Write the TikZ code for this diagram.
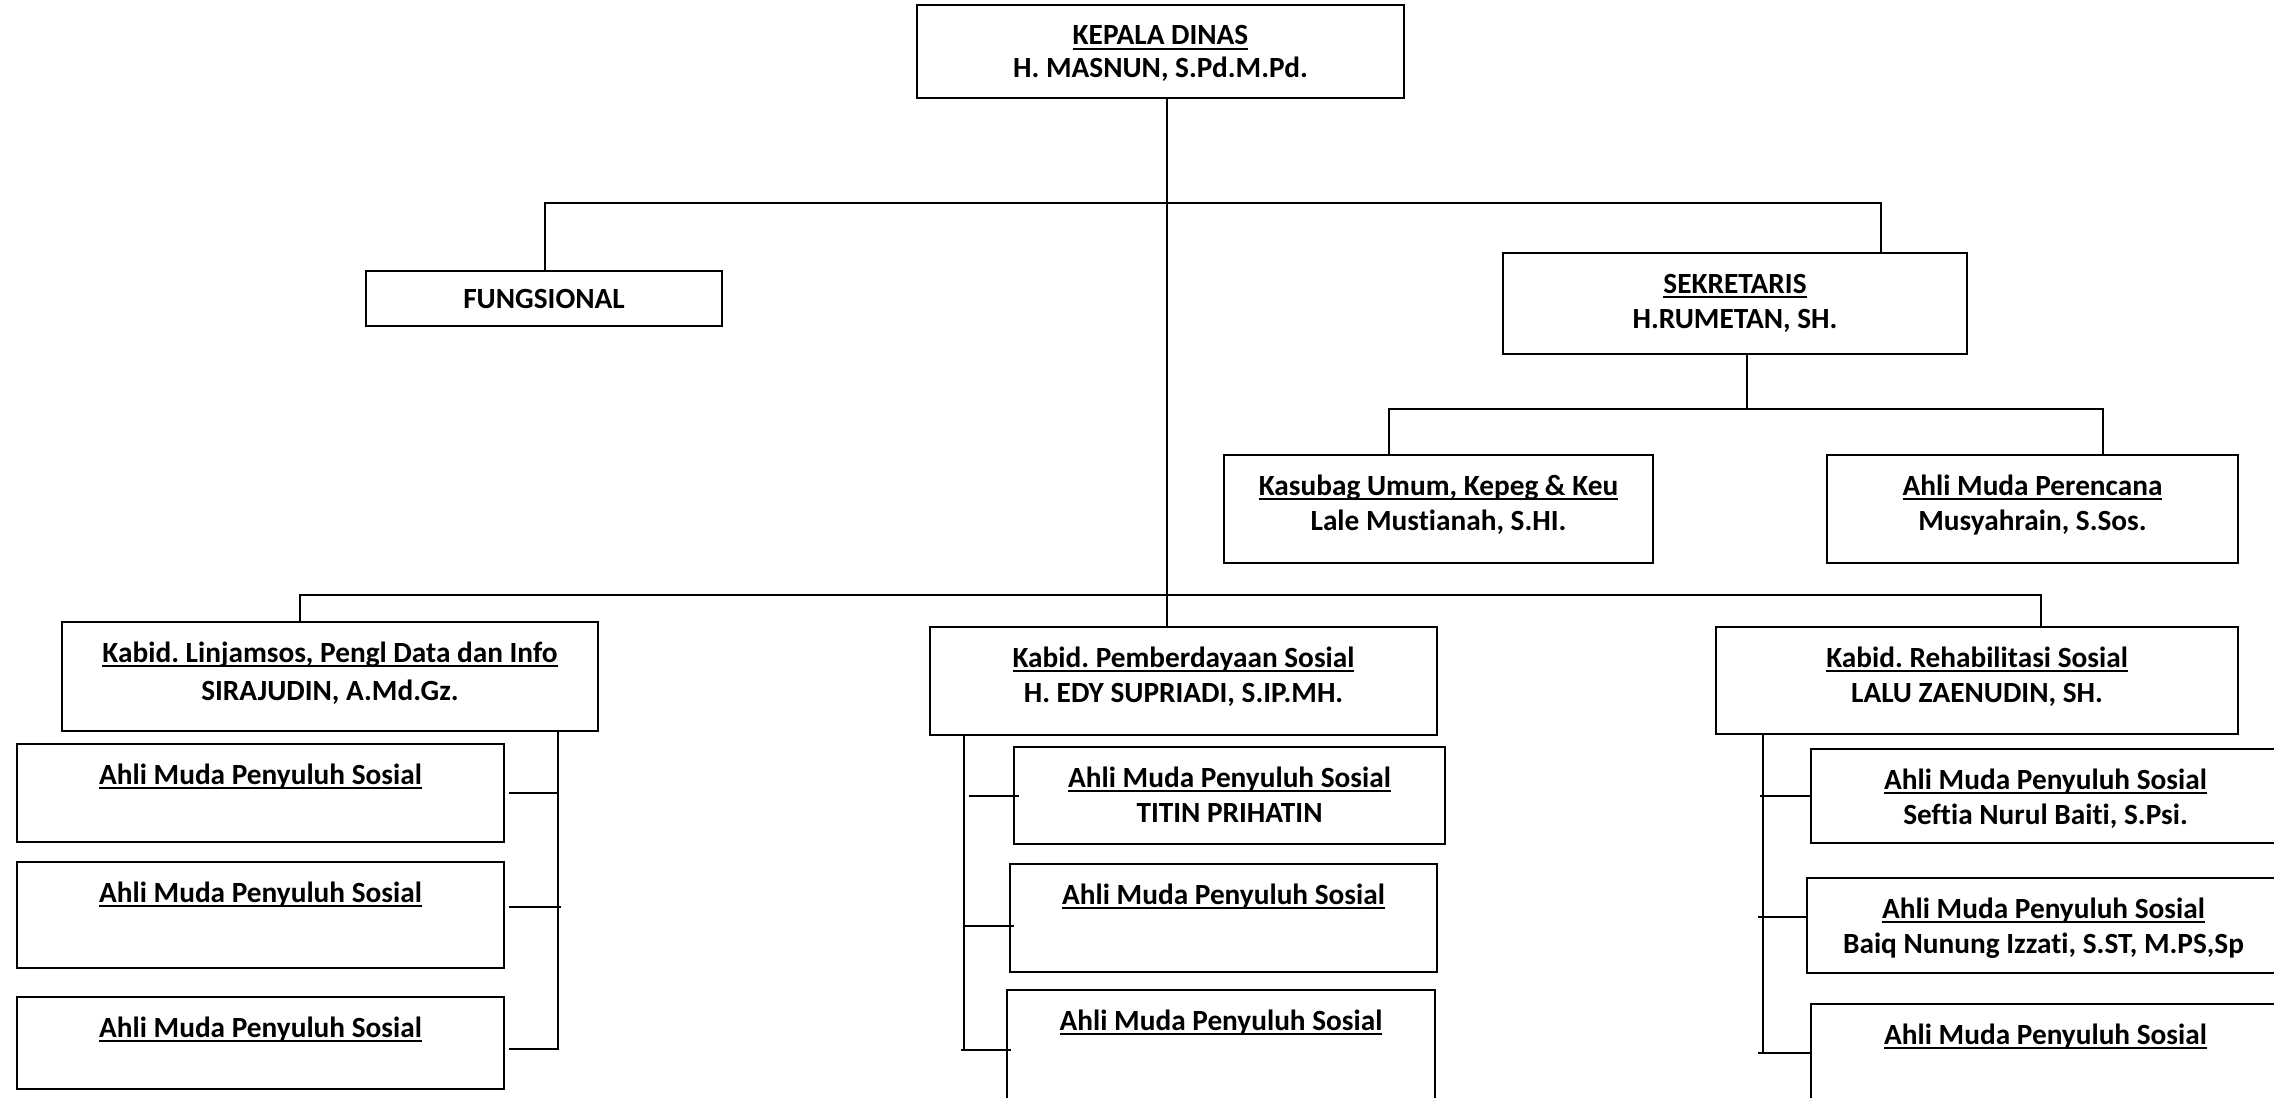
\documentclass[tikz,border=0pt]{standalone}
\usepackage{fontspec}
\setmainfont{Carlito}[Ligatures=NoCommon]
\frenchspacing
\newcommand{\myul}[1]{\setbox0=\hbox{#1}\rlap{\rule[-2.6pt]{\wd0}{1.2pt}}\box0}
\newcommand{\orgbox}[7]{%
  \node[obox, minimum width={(#4-#2)*0.5pt}, minimum height={(#5-#3)*0.5pt}] (#1) at ({(#2+#4)/2},{(#3+#5)/2}) {};
  \node[txt] (#1-a) at ({(#2+#4)/2},{#3+40}) {\myul{#6}};
  \if\relax\detokenize{#7}\relax\else
  \node[txt] (#1-b) at ({(#2+#4)/2},{#3+75}) {#7};\fi}
\tikzset{
  obox/.style={draw=black, line width=1.1pt, inner sep=0pt, rectangle},
  txt/.style={anchor=base, inner sep=0pt, font=\fontsize{14.65pt}{17pt}\selectfont\bfseries\frenchspacing},
  conn/.style={draw=black, line width=1pt}
}
\begin{document}
\begin{tikzpicture}[x=0.5pt, y=-0.5pt]
\fill[white] (0,0) rectangle (2274,1097);
\useasboundingbox (0,0) rectangle (2274,1097);

% top level
\orgbox{kepala}{917}{5}{1404}{98}{KEPALA DINAS}{}
\node[txt] (kepala-b) at (1160.5,78) {H. MASNUN, S.Pd.M.Pd.};
\node[obox, minimum width={356*0.5pt}, minimum height={55*0.5pt}, font=\fontsize{14.65pt}{17pt}\selectfont\bfseries] (fung) at (544,298.5) {FUNGSIONAL};
\orgbox{sek}{1503}{253}{1967}{354}{SEKRETARIS}{H.RUMETAN, SH.}
\orgbox{kasubag}{1224}{455}{1653}{563}{Kasubag Umum, Kepeg \& Keu}{Lale Mustianah, S.HI.}
\orgbox{perenc}{1827}{455}{2238}{563}{Ahli Muda Perencana}{Musyahrain, S.Sos.}

% kabid level
\orgbox{linj}{62}{622}{598}{731}{Kabid. Linjamsos, Pengl Data dan Info}{}
\node[txt] (linj-b) at (330,700) {SIRAJUDIN, A.Md.Gz.};
\orgbox{pember}{930}{627}{1437}{735}{Kabid. Pemberdayaan Sosial}{H. EDY SUPRIADI, S.IP.MH.}
\orgbox{rehab}{1716}{627}{2238}{734}{Kabid. Rehabilitasi Sosial}{LALU ZAENUDIN, SH.}

% staff boxes
\orgbox{L1}{17}{744}{504}{842}{Ahli Muda Penyuluh Sosial}{}
\orgbox{L2}{17}{862}{504}{968}{Ahli Muda Penyuluh Sosial}{}
\orgbox{L3}{17}{997}{504}{1089}{Ahli Muda Penyuluh Sosial}{}
\orgbox{M1}{1014}{747}{1445}{844}{Ahli Muda Penyuluh Sosial}{TITIN PRIHATIN}
\orgbox{M2}{1010}{864}{1437}{972}{Ahli Muda Penyuluh Sosial}{}
\orgbox{M3}{1007}{990}{1435}{1130}{Ahli Muda Penyuluh Sosial}{}
\orgbox{R1}{1811}{749}{2280}{843}{Ahli Muda Penyuluh Sosial}{Seftia Nurul Baiti, S.Psi.}
\orgbox{R2}{1807}{878}{2280}{973}{Ahli Muda Penyuluh Sosial}{Baiq Nunung Izzati, S.ST, M.PS,Sp}
\orgbox{R3}{1811}{1004}{2280}{1130}{Ahli Muda Penyuluh Sosial}{}

% connector coordinates
\coordinate (spine) at (1167,0);
\coordinate (upL) at (545,203);
\coordinate (upR) at (1881,203);
\coordinate (sekX) at (1747,409);
\coordinate (midL) at (1389,409);
\coordinate (midR) at (2103,409);
\coordinate (botL) at (300,595);
\coordinate (botR) at (2041,595);
\coordinate (busL) at (558,1050);
\coordinate (busM) at (964,1050);
\coordinate (busR) at (1763,1053);

% connectors
\draw[conn] (kepala.south -| spine) -- (pember.north -| spine);
\draw[conn] (fung.north -| upL) -- (upL) -- (upR) -- (sek.north -| upR);
\draw[conn] (sek.south -| sekX) -- (sekX);
\draw[conn] (kasubag.north -| midL) -- (midL) -- (midR) -- (perenc.north -| midR);
\draw[conn] (linj.north -| botL) -- (botL) -- (botR) -- (rehab.north -| botR);

\draw[conn] (linj.south -| busL) -- (busL);
\draw[conn] ([xshift=2pt]L1.east) -- (L1.east -| busL);
\draw[conn] ([shift={(4,-8)}]L2.east) -- ([shift={(3,-8)}]L2.east -| busL);
\draw[conn] ([shift={(4,6)}]L3.east) -- ([shift={(0,6)}]L3.east -| busL);

\draw[conn] (pember.south -| busM) -- (busM);
\draw[conn] ([shift={(6,0)}]M1.west) -- ([shift={(5,0)}]M1.west -| busM);
\draw[conn] ([shift={(5,8)}]M2.west) -- ([shift={(0,8)}]M2.west -| busM);
\draw[conn] ([shift={(5,0)}]M3.west |- busM) -- ([shift={(-3,0)}]busM);

\draw[conn] (rehab.south -| busR) -- (busR);
\draw[conn] (R1.west) -- ([shift={(-3,0)}]R1.west -| busR);
\draw[conn] ([shift={(0,-9)}]R2.west) -- ([shift={(-5,-9)}]R2.west -| busR);
\draw[conn] (R3.west |- busR) -- ([shift={(-5,0)}]busR);
\end{tikzpicture}
\end{document}
